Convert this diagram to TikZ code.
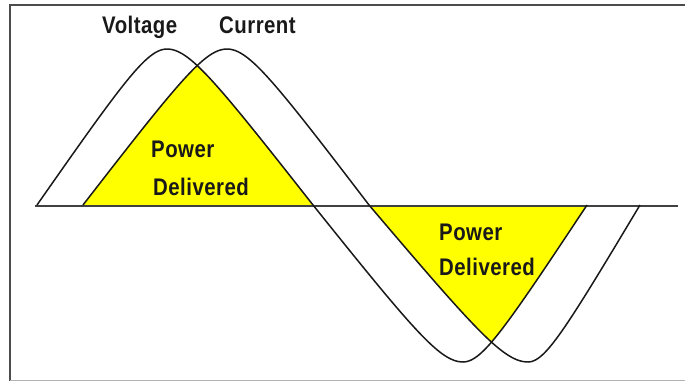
\documentclass[tikz,border=0pt]{standalone}
\usepackage{fontspec}
\newfontfamily\lblfont[FakeStretch=0.85,LetterSpace=2]{Liberation Sans}
\begin{document}
\begin{tikzpicture}[x=1pt,y=-1pt,
  declare function={g(\t)=asin(0.95*sin(\t))/asin(0.95);},
  wave/.style={line width=1.5pt,draw=black!90,line join=round},
  axisline/.style={line width=2pt,draw=black!75},
  lbl/.style={font=\lblfont\bfseries\fontsize{24}{28}\selectfont,anchor=base west,inner sep=0pt,text=black!90},
  pwr/.style={fill={rgb,255:red,255;green,255;blue,0}}]
\useasboundingbox (0,0) rectangle (685,381);
% frame
\draw[line width=2.6pt,draw=black!70] (10,381) -- (10,5) -- (685,5);
\draw[line width=1pt,draw=black!30] (10,380) -- (685,380);
% yellow: positive half
\begin{scope}
  \clip plot[domain=37:167,samples=60] (\x,{205-156*g(90*(\x-37)/130)})
     -- plot[domain=167:313,samples=60] (\x,{205-156*g(90*(313-\x)/146)}) -- cycle;
  \fill[pwr] plot[domain=83:227,samples=60] (\x,{205-156*g(90*(\x-83)/144)})
     -- plot[domain=227:369,samples=60] (\x,{205-156*g(90*(369-\x)/142)}) -- cycle;
\end{scope}
% yellow: negative half
\begin{scope}
  \clip plot[domain=313:463,samples=60] (\x,{205+157*g(90*(\x-313)/150)})
     -- plot[domain=463:587,samples=60] (\x,{205+157*g(90*(587-\x)/124)}) -- cycle;
  \fill[pwr] plot[domain=369:528,samples=60] (\x,{205+157*g(90*(\x-369)/159)})
     -- plot[domain=528:640,samples=60] (\x,{205+157*g(90*(640-\x)/112)}) -- cycle;
\end{scope}
% axis
\coordinate (axL) at (35,206);
\coordinate (axR) at (678,206);
\draw[axisline] (axL) -- (axR);
% voltage
\draw[wave] plot[domain=37:167,samples=60] (\x,{205-156*g(90*(\x-37)/130)})
  -- plot[domain=167:313,samples=60] (\x,{205-156*g(90*(313-\x)/146)})
  -- plot[domain=313:463,samples=60] (\x,{205+157*g(90*(\x-313)/150)})
  -- plot[domain=463:587,samples=60] (\x,{205+157*g(90*(587-\x)/124)});
% current
\draw[wave] plot[domain=83:227,samples=60] (\x,{205-156*g(90*(\x-83)/144)})
  -- plot[domain=227:369,samples=60] (\x,{205-156*g(90*(369-\x)/142)})
  -- plot[domain=369:528,samples=60] (\x,{205+157*g(90*(\x-369)/159)})
  -- plot[domain=528:640,samples=60] (\x,{205+157*g(90*(640-\x)/112)});
% labels
\node[lbl] (volt) at (102,33) {Voltage};
\node[lbl] (curr) at (219,33) {Current};
\node[lbl] (p1a) at (151,157) {Power};
\node[lbl] (p1b) at (153,195) {Delivered};
\node[lbl] (p2a) at (439,240) {Power};
\node[lbl] (p2b) at (439,275) {Delivered};
\end{tikzpicture}
\end{document}
